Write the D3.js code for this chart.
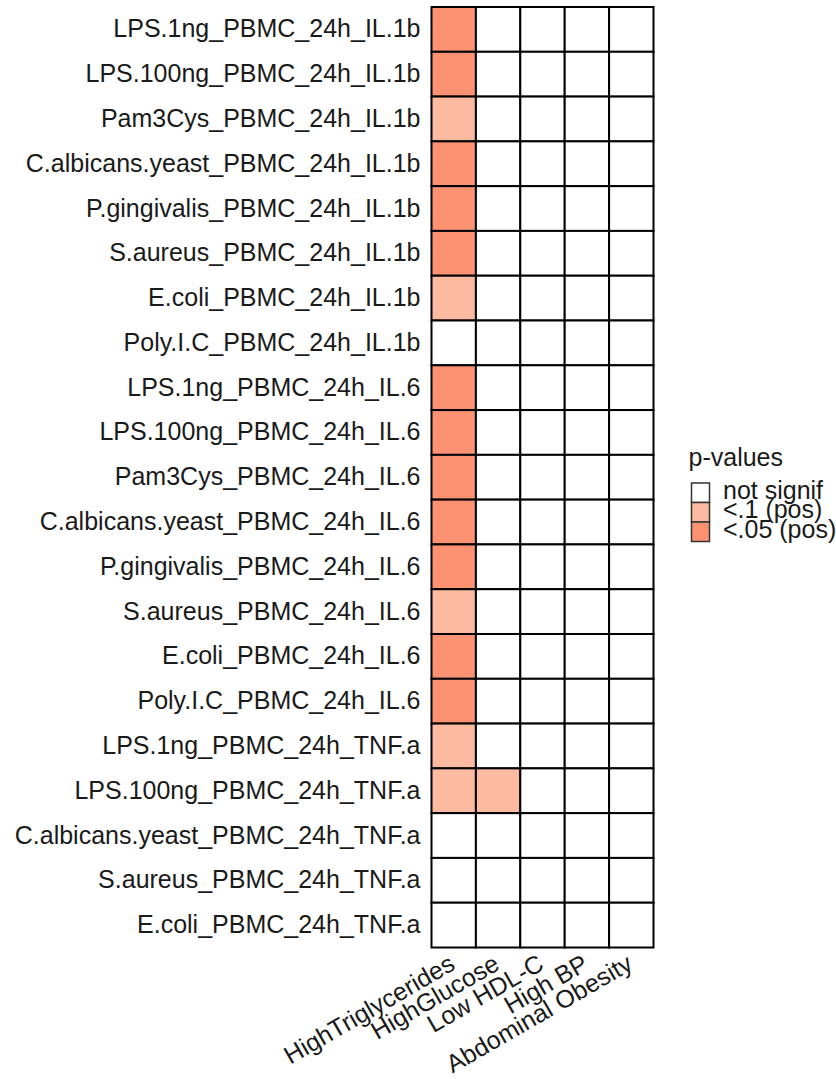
<!DOCTYPE html>
<html>
<head>
<meta charset="utf-8">
<script src="https://cdn.jsdelivr.net/npm/d3@7"></script>
<style>
  body { margin: 0; background: #fff; }
  text { font-family: "Liberation Sans", Arial, sans-serif; fill: #1a1a1a; }
</style>
</head>
<body>
<div id="chart"></div>
<script>
var w = 836;
var h = 1079;

// row labels, top to bottom
var stimuli = [
  "LPS.1ng_PBMC_24h_IL.1b", "LPS.100ng_PBMC_24h_IL.1b", "Pam3Cys_PBMC_24h_IL.1b",
  "C.albicans.yeast_PBMC_24h_IL.1b", "P.gingivalis_PBMC_24h_IL.1b", "S.aureus_PBMC_24h_IL.1b",
  "E.coli_PBMC_24h_IL.1b", "Poly.I.C_PBMC_24h_IL.1b",
  "LPS.1ng_PBMC_24h_IL.6", "LPS.100ng_PBMC_24h_IL.6", "Pam3Cys_PBMC_24h_IL.6",
  "C.albicans.yeast_PBMC_24h_IL.6", "P.gingivalis_PBMC_24h_IL.6", "S.aureus_PBMC_24h_IL.6",
  "E.coli_PBMC_24h_IL.6", "Poly.I.C_PBMC_24h_IL.6",
  "LPS.1ng_PBMC_24h_TNF.a", "LPS.100ng_PBMC_24h_TNF.a", "C.albicans.yeast_PBMC_24h_TNF.a",
  "S.aureus_PBMC_24h_TNF.a", "E.coli_PBMC_24h_TNF.a"
];
// column labels
var traits = ["HighTriglycerides", "HighGlucose", "Low HDL-C", "High BP", "Abdominal Obesity"];

// significance categories
var levels = ["not signif", "<.1 (pos)", "<.05 (pos)"];
var levelColors = ["#ffffff", "#fcbba1", "#fc9272"];

// category per column, one entry per stimulus row
var highTriglycerides = [2, 2, 1, 2, 2, 2, 1, 0, 2, 2, 2, 2, 2, 1, 2, 2, 1, 1, 0, 0, 0];
var highGlucose       = [0, 0, 0, 0, 0, 0, 0, 0, 0, 0, 0, 0, 0, 0, 0, 0, 0, 1, 0, 0, 0];
var lowHDL            = [0, 0, 0, 0, 0, 0, 0, 0, 0, 0, 0, 0, 0, 0, 0, 0, 0, 0, 0, 0, 0];
var highBP            = [0, 0, 0, 0, 0, 0, 0, 0, 0, 0, 0, 0, 0, 0, 0, 0, 0, 0, 0, 0, 0];
var abdObesity        = [0, 0, 0, 0, 0, 0, 0, 0, 0, 0, 0, 0, 0, 0, 0, 0, 0, 0, 0, 0, 0];
var columns = [highTriglycerides, highGlucose, lowHDL, highBP, abdObesity];

var cells = [];
columns.forEach(function(col, j) {
  col.forEach(function(v, i) {
    cells.push({ trait: traits[j], stim: stimuli[i], level: levels[v] });
  });
});

var fontSize = "25px";
var xScale = d3.scaleBand().domain(traits).range([431.5, 653.5]);
var yScale = d3.scaleBand().domain(stimuli).range([7, 947.5]);
var color = d3.scaleOrdinal().domain(levels).range(levelColors);

function main() {
  var svg = d3.select("#chart")
              .append("svg")
              .attr("width", w)
              .attr("height", h);

  // tiles
  svg.selectAll("rect.cell")
     .data(cells)
     .enter()
     .append("rect")
     .attr("class", "cell")
     .attr("x", d => xScale(d.trait))
     .attr("y", d => yScale(d.stim))
     .attr("width", xScale.bandwidth())
     .attr("height", yScale.bandwidth())
     .style("fill", d => color(d.level))
     .style("stroke", "#000")
     .style("stroke-width", 2);

  // y axis labels
  var yAxis = d3.axisLeft(yScale).tickSize(0).tickPadding(11);
  svg.append("g")
     .attr("transform", "translate(431.5,0)")
     .call(yAxis)
     .call(g => g.select(".domain").remove())
     .selectAll("text")
     .attr("font-family", "Liberation Sans, Arial, sans-serif")
     .attr("font-size", fontSize)
     .attr("fill", "#1a1a1a");

  // x axis labels, rotated
  var xAxis = d3.axisBottom(xScale).tickSize(0).tickPadding(0);
  svg.append("g")
     .attr("transform", "translate(-6,953)")
     .call(xAxis)
     .call(g => g.select(".domain").remove())
     .selectAll("text")
     .attr("font-family", "Liberation Sans, Arial, sans-serif")
     .attr("font-size", fontSize)
     .attr("fill", "#1a1a1a")
     .attr("text-anchor", "end")
     .attr("y", 0)
     .attr("dy", "0.72em")
     .attr("transform", "rotate(-30)");

  // legend
  var legend = svg.append("g").attr("transform", "translate(691.5,0)");
  legend.append("text")
        .attr("x", -3)
        .attr("y", 466)
        .attr("font-size", fontSize)
        .text("p-values");

  var keys = legend.selectAll("g.key")
                   .data(levels)
                   .enter()
                   .append("g")
                   .attr("class", "key")
                   .attr("transform", (d, i) => "translate(0," + (483 + i * 19.5) + ")");
  keys.append("rect")
      .attr("width", 18)
      .attr("height", 19.5)
      .style("fill", d => color(d))
      .style("stroke", "#333")
      .style("stroke-width", 1.5);
  keys.append("text")
      .attr("x", 31.5)
      .attr("y", 15.5)
      .attr("font-size", fontSize)
      .text(d => d);
}

window.onload = function() {
  main();
};
</script>
</body>
</html>
